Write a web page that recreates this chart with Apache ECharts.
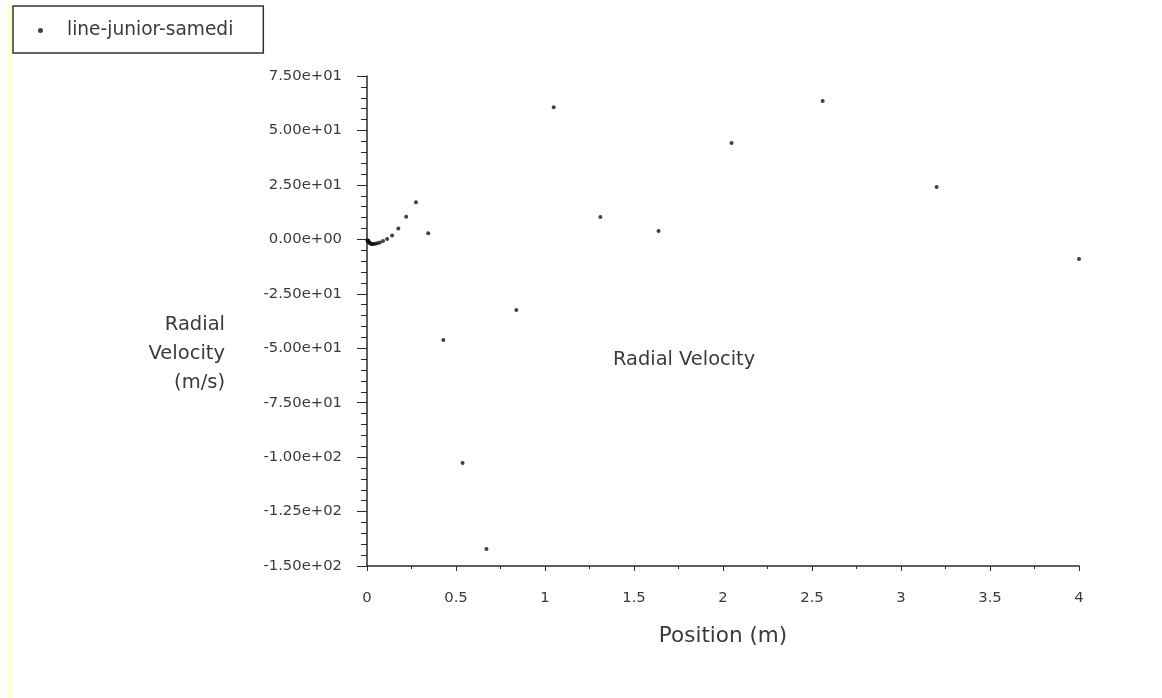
<!DOCTYPE html>
<html>
<head>
<meta charset="utf-8">
<title>Radial Velocity</title>
<script src="https://cdn.jsdelivr.net/npm/echarts@6/dist/echarts.min.js"></script>
<style>
  html, body { margin: 0; padding: 0; background: #ffffff; }
  #chart { width: 1162px; height: 698px; }
</style>
</head>
<body>
<div id="chart"></div>
<script>
// Sample positions along the line (m) and radial velocity at each (m/s)
const positions = [
  4.0, 3.2, 2.56, 2.048, 1.638, 1.311, 1.049, 0.839, 0.671, 0.537,
  0.429, 0.344, 0.275, 0.220, 0.176, 0.141, 0.113, 0.090, 0.072, 0.058,
  0.046, 0.037, 0.030, 0.024, 0.019, 0.015, 0.012, 0.0097, 0.0077, 0.0062,
  0.0050, 0.0040, 0.0032
];
const radialVelocity = [
  -9.0, 24.0, 63.5, 44.2, 3.8, 10.2, 60.7, -32.4, -142.2, -102.7,
  -46.2, 2.8, 17.0, 10.4, 5.0, 1.8, 0.1, -0.8, -1.5, -1.8,
  -2.0, -2.1, -2.2, -2.0, -1.9, -1.6, -1.4, -1.2, -1.0, -0.8,
  -0.6, -0.5, -0.4
];
const seriesName = 'line-junior-samedi';
const xTitle = 'Position (m)';
const yTitle = 'Radial\nVelocity\n(m/s)';
const plotTitle = 'Radial Velocity';

const points = positions.map((x, i) => [x, radialVelocity[i]]);

// Scientific notation with a two-digit exponent, e.g. 7.50e+01
function sci(v) {
  const s = Number(v).toExponential(2);
  return s.replace(/e([+-])(\d)$/, 'e$10$2');
}

const FONT = 'DejaVu Sans';
const TEXT = '#3a3a3a';
const AXIS = '#2a2a2a';

const chart = echarts.init(document.getElementById('chart'), null, { renderer: 'canvas' });
chart.setOption({
  backgroundColor: '#ffffff',
  animation: false,
  textStyle: { fontFamily: FONT },
  grid: { left: 367, right: 83, top: 76, bottom: 132, containLabel: false },
  legend: {
    left: 13,
    top: 6,
    padding: [15, 30, 13, 25],
    borderColor: '#333333',
    borderWidth: 1.5,
    itemWidth: 5,
    itemHeight: 5,
    textStyle: { fontFamily: FONT, fontSize: 18.6, color: TEXT, padding: [0, 0, 0, 19] },
    data: [{ name: seriesName, icon: 'circle' }]
  },
  xAxis: {
    type: 'value',
    min: 0,
    max: 4,
    interval: 0.5,
    name: xTitle,
    nameLocation: 'middle',
    nameGap: 59,
    nameTextStyle: { fontFamily: FONT, fontSize: 21.5, color: TEXT },
    axisLine: { show: true, onZero: false, lineStyle: { color: AXIS, width: 1.5 } },
    axisTick: { show: true, inside: false, length: 5, lineStyle: { color: AXIS } },
    minorTick: { show: true, splitNumber: 2, length: 3, lineStyle: { color: AXIS } },
    axisLabel: { fontFamily: FONT, fontSize: 14.8, color: TEXT, margin: 25 },
    splitLine: { show: false },
    minorSplitLine: { show: false }
  },
  yAxis: {
    type: 'value',
    min: -150,
    max: 75,
    interval: 25,
    axisLine: { show: true, onZero: false, lineStyle: { color: AXIS, width: 1.5 } },
    axisTick: { show: true, inside: false, length: 10, lineStyle: { color: AXIS } },
    minorTick: { show: true, splitNumber: 5, length: 6, lineStyle: { color: AXIS } },
    axisLabel: { fontFamily: FONT, fontSize: 14.8, color: TEXT, margin: 25, formatter: sci },
    splitLine: { show: false },
    minorSplitLine: { show: false }
  },
  graphic: [
    {
      type: 'rect',
      left: 7,
      top: 4,
      shape: { width: 5, height: 694 },
      style: { fill: '#ffffd2' },
      silent: true
    },
    {
      // vertical axis title, right-aligned beside the tick labels
      type: 'text',
      x: 225,
      y: 310,
      style: {
        text: yTitle,
        font: '19.5px "DejaVu Sans"',
        fill: TEXT,
        align: 'right',
        verticalAlign: 'top',
        lineHeight: 29
      }
    },
    {
      type: 'text',
      left: 613,
      top: 350,
      style: { text: plotTitle, font: '19.4px "DejaVu Sans"', fill: TEXT }
    }
  ],
  series: [{
    name: seriesName,
    type: 'scatter',
    data: points,
    symbol: 'circle',
    symbolSize: 4,
    itemStyle: { color: '#111111' }
  }]
});
</script>
</body>
</html>
